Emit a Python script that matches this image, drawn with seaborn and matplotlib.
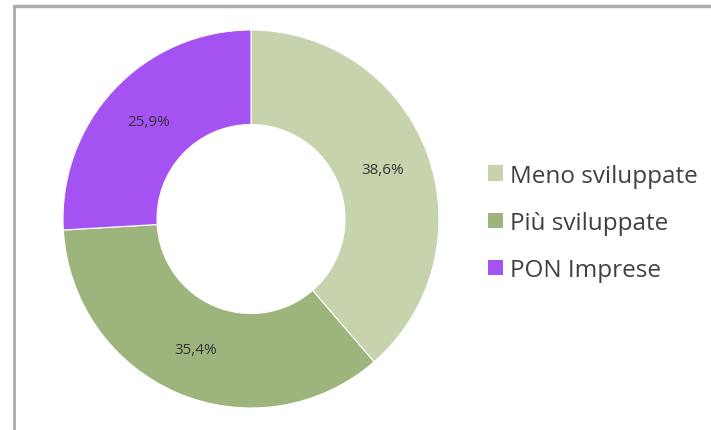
import numpy as np
import matplotlib
matplotlib.use("Agg")
import matplotlib.pyplot as plt
from matplotlib.patches import Patch
from matplotlib.lines import Line2D
import seaborn as sns

# data
categories = ["Meno sviluppate", "Più sviluppate", "PON Imprese"]
shares = [38.6, 35.4, 25.9]
colors = ["#c6d3ad", "#9db57d", "#a552f3"]

sns.set_theme(style="white")
plt.rcParams["font.family"] = ["Open Sans", "DejaVu Sans"]

fig = plt.figure(figsize=(7.11, 4.31), dpi=100)
fig.patch.set_facecolor("white")

# donut axes, centred near (251, 221) px with radius ~188 px
ax = fig.add_axes([63 / 711, 22 / 431, 376 / 711, 378 / 431])
wedges, texts, autotexts = ax.pie(
    shares,
    colors=colors,
    startangle=90,
    counterclock=False,
    autopct=lambda p: f"{p:.1f}%".replace(".", ","),
    pctdistance=0.75,
    wedgeprops=dict(width=0.5, edgecolor="white", linewidth=0.8),
    textprops=dict(fontsize=11, color="#333333"),
)
ax.set_aspect("auto")
ax.set_xlim(-1, 1)
ax.set_ylim(-1, 1)
ax.axis("off")

handles = [Patch(facecolor=c, edgecolor="none") for c in colors]
fig.legend(
    handles, categories,
    loc="center left",
    bbox_to_anchor=(488 / 711, 1 - 224 / 431),
    frameon=False,
    fontsize=17.5,
    handlelength=0.62,
    handleheight=0.62,
    handletextpad=0.3,
    labelspacing=0.95,
    borderpad=0,
    borderaxespad=0,
    labelcolor="#404040",
)

# grey frame on the top and left edges
fig.add_artist(Line2D([14 / 711, 14 / 711], [0, 1 - 7 / 431],
                      transform=fig.transFigure, color="#ababab", lw=2))
fig.add_artist(Line2D([14 / 711, 1], [1 - 7 / 431, 1 - 7 / 431],
                      transform=fig.transFigure, color="#ababab", lw=2.5))

fig.savefig("out.png", dpi=100)
